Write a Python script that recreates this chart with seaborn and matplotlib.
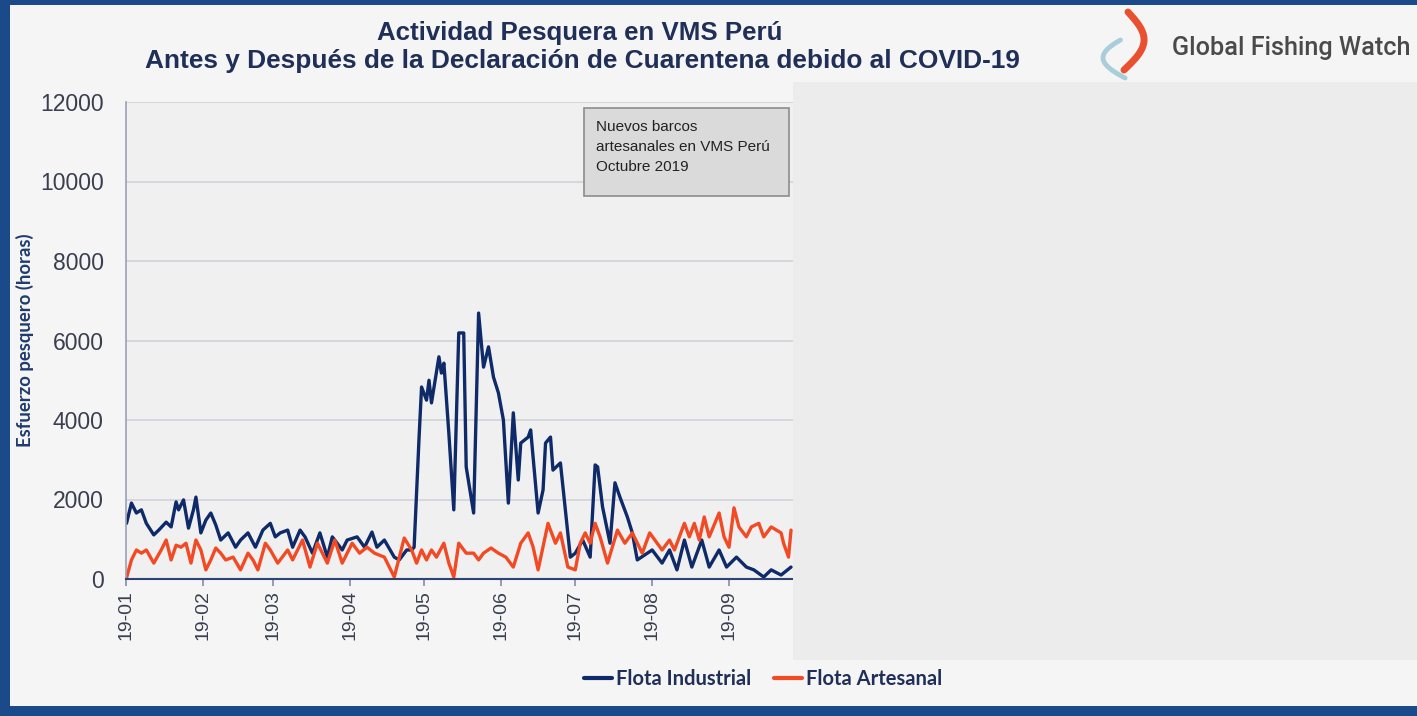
import numpy as np
import pandas as pd
import matplotlib
matplotlib.use("Agg")
import matplotlib.pyplot as plt
import matplotlib.dates as mdates
from matplotlib.patches import Rectangle
from matplotlib.lines import Line2D
import seaborn as sns

# dias desde 2019-01-01 y horas de esfuerzo pesquero
dias_industrial = [0, 2, 4, 6, 8, 11, 13, 16, 18, 20, 21, 23, 25, 27, 28, 30, 32, 34, 36, 38,
                   41, 44, 46, 49, 52, 55, 58, 60, 62, 65, 67, 70, 72, 75, 78, 81, 83, 87, 89, 93,
                   96, 99, 101, 104, 108, 110, 113, 115, 116, 118, 119, 121, 122, 123, 126, 127, 128, 130,
                   132, 134, 136, 137, 140, 142, 144, 146, 148, 150, 152, 154, 156, 158, 159, 162,
                   163, 166, 168, 169, 171, 172, 175, 179, 181, 184, 187, 189, 190, 192, 195, 197,
                   199, 202, 204, 206, 212, 216, 219, 222, 225, 228, 232, 235, 239, 242, 246, 250,
                   253, 257, 260, 264, 268]
horas_industrial = [1400, 1910, 1660, 1740, 1400, 1110, 1230, 1430, 1310, 1940, 1740, 1990, 1280, 1740, 2060,
                    1160, 1480, 1660, 1360, 980, 1160, 800, 980, 1160, 800, 1230, 1400, 1060, 1160, 1230,
                    800, 1230, 1060, 650, 1160, 550, 1060, 730, 980, 1060, 800, 1180, 800, 980, 550, 480,
                    730, 730, 800, 3570, 4830, 4500, 5000, 4430, 5590, 5180, 5430, 3670, 1740, 6190, 6190,
                    2820, 1660, 6690, 5330, 5840, 5080, 4680, 4000, 1910, 4180, 2490, 3420, 3570, 3750,
                    1660, 2240, 3420, 3570, 2740, 2920, 550, 650, 980, 550, 2870, 2820, 1810, 900, 2420,
                    2060, 1560, 1160, 480, 730, 400, 730, 230, 980, 300, 980, 300, 730, 300, 550, 300,
                    230, 50, 230, 100, 300]

dias_artesanal = [0, 2, 4, 6, 8, 11, 14, 16, 18, 20, 22, 24, 26, 28, 30, 32, 34, 36, 38, 40,
                  43, 46, 49, 51, 53, 56, 58, 61, 65, 67, 71, 74, 77, 81, 84, 87, 91, 94, 97, 100,
                  104, 108, 112, 115, 117, 119, 121, 123, 125, 128, 130, 132, 134, 137, 140, 142, 144,
                  147, 150, 153, 156, 159, 162, 164, 166, 170, 171, 173, 175, 178, 181, 183, 185, 187,
                  189, 191, 194, 198, 201, 204, 208, 211, 216, 219, 221, 225, 227, 229, 231, 233, 235,
                  239, 241, 243, 245, 247, 250, 252, 255, 257, 260, 264, 265, 267, 268]
horas_artesanal = [25, 480, 730, 650, 730, 400, 730, 980, 480, 850, 800, 900, 400, 980, 730, 230, 480, 780,
                   650, 480, 550, 230, 650, 480, 230, 900, 730, 400, 730, 480, 980, 300, 900, 400, 980,
                   400, 900, 650, 800, 650, 550, 50, 1030, 730, 400, 730, 480, 730, 550, 900, 400, 50,
                   900, 650, 650, 480, 650, 780, 650, 550, 300, 900, 1160, 800, 230, 1400, 1230, 900,
                   1160, 300, 230, 900, 1160, 900, 1400, 1060, 400, 1230, 900, 1160, 650, 1160, 730, 980,
                   730, 1400, 1060, 1400, 980, 1560, 1060, 1660, 1060, 800, 1790, 1310, 1060, 1310,
                   1400, 1060, 1310, 1160, 900, 550, 1230]

serie_nombres = ["Flota Industrial", "Flota Artesanal"]
y_ticks = [0, 2000, 4000, 6000, 8000, 10000, 12000]

base = pd.Timestamp("2019-01-01")
df = pd.concat([
    pd.DataFrame({"Fecha": base + pd.to_timedelta(dias_industrial, unit="D"),
                  "Horas": horas_industrial, "Flota": serie_nombres[0]}),
    pd.DataFrame({"Fecha": base + pd.to_timedelta(dias_artesanal, unit="D"),
                  "Horas": horas_artesanal, "Flota": serie_nombres[1]}),
])

sns.set_theme(style="white")
plt.rcParams["font.family"] = ["Liberation Sans", "DejaVu Sans"]

W, H = 1417, 716
fig = plt.figure(figsize=(W / 100, H / 100), dpi=100)
fig.patch.set_facecolor("#1b4a8a")

def fx(x):
    return x / W

def fy(y):
    return 1 - y / H

# panel claro interior
fig.patches.append(Rectangle((fx(10), fy(706)), fx(1417 - 10), (706 - 5) / H,
                             transform=fig.transFigure, facecolor="#f5f5f5",
                             edgecolor="none", zorder=-5))

ax = fig.add_axes([fx(126), fy(579), fx(793 - 126), (579 - 102) / H])
ax.set_facecolor("#f0f0f0")

colores = {"Flota Industrial": "#0f2a68", "Flota Artesanal": "#f24a24"}
sns.lineplot(data=df, x="Fecha", y="Horas", hue="Flota", palette=colores,
             estimator=None, linewidth=2.4, ax=ax, legend=False)

ax.set_ylim(0, 12000)
ax.set_yticks(y_ticks)
ax.set_xlim(base - pd.Timedelta(days=0.2), base + pd.Timedelta(days=268.8))
ax.xaxis.set_major_locator(mdates.MonthLocator())
ax.xaxis.set_major_formatter(mdates.DateFormatter("%y-%m"))
ax.grid(axis="y", color="#d3d5dc", linewidth=1.3)
ax.set_axisbelow(True)
for s in ["top", "right"]:
    ax.spines[s].set_visible(False)
ax.spines["left"].set_color("#9aa1b5")
ax.spines["left"].set_linewidth(1.2)
ax.spines["bottom"].set_color("#2e4273")
ax.spines["bottom"].set_linewidth(1.5)
ax.tick_params(axis="x", bottom=True, length=5, color="#8a91a8", labelrotation=90,
               labelsize=14, labelcolor="#3a3f4f", pad=3)
ax.tick_params(axis="y", left=False, labelsize=16.5, labelcolor="#3a3f4f", pad=10)
ax.set_xlabel("")
ax.set_ylabel("Esfuerzo pesquero (horas)", fontsize=13.3, fontweight="bold",
              color="#1f3a6e", family=["Lato", "DejaVu Sans"])
ax.yaxis.set_label_coords(-0.138, 0.5)

# cuadro de nota
ax.add_patch(Rectangle((fx(584), fy(196)), fx(789 - 584), (196 - 108) / H,
                       transform=fig.transFigure, facecolor="#dadada",
                       edgecolor="#8c8c8c", linewidth=1.2, zorder=5))
ax.text(fx(596), fy(120), "Nuevos barcos\nartesanales en VMS Perú\nOctubre 2019",
        transform=fig.transFigure, fontsize=11, color="#222222", va="top", ha="left",
        linespacing=1.55, zorder=6)

# titulo
fig.text(fx(580), fy(33), "Actividad Pesquera en VMS Perú", ha="center", va="center",
         fontsize=18.6, fontweight="bold", color="#1f2f57")
fig.text(fx(582), fy(61), "Antes y Después de la Declaración de Cuarentena debido al COVID-19",
         ha="center", va="center", fontsize=18.9, fontweight="bold", color="#1f2f57")

# recuadro gris que tapa la parte derecha
fig.patches.append(Rectangle((fx(793), fy(660)), fx(W - 793), (660 - 82) / H,
                             transform=fig.transFigure, facecolor="#ececec",
                             edgecolor="none", zorder=10))

# logo Global Fishing Watch
t = np.linspace(0, 1, 40)
arc_x = 1135 - 32 * np.sin(np.pi * (0.15 + 0.75 * t))
arc_y = 40 + 38 * t
fig.add_artist(Line2D(fx(arc_x), fy(arc_y), transform=fig.transFigure,
                      color="#a9ced9", linewidth=3.5, solid_capstyle="round", zorder=11))
fish_x = 1128 + 18 * np.sin(np.pi * t) - 4 * t
fish_y = 12 + 58 * t
fig.add_artist(Line2D(fx(fish_x), fy(fish_y), transform=fig.transFigure,
                      color="#e8502f", linewidth=5, solid_capstyle="round", zorder=12))
fig.text(fx(1172), fy(48), "Global Fishing Watch", ha="left", va="center",
         fontsize=18.2, fontweight="medium", color="#4a4a4a",
         family=["Roboto", "DejaVu Sans"])

# leyenda
handles = [Line2D([], [], color=colores[n], linewidth=3) for n in serie_nombres]
leg = fig.legend(handles, serie_nombres, loc="center", bbox_to_anchor=(fx(763), fy(679)),
                 ncol=2, frameon=False, handlelength=1.4, handletextpad=0.2,
                 columnspacing=1.1, prop={"family": ["Lato", "DejaVu Sans"],
                                          "weight": "bold", "size": 14.5})
for txt in leg.get_texts():
    txt.set_color("#1f2f57")

fig.savefig("out.png", dpi=100, facecolor=fig.get_facecolor())
